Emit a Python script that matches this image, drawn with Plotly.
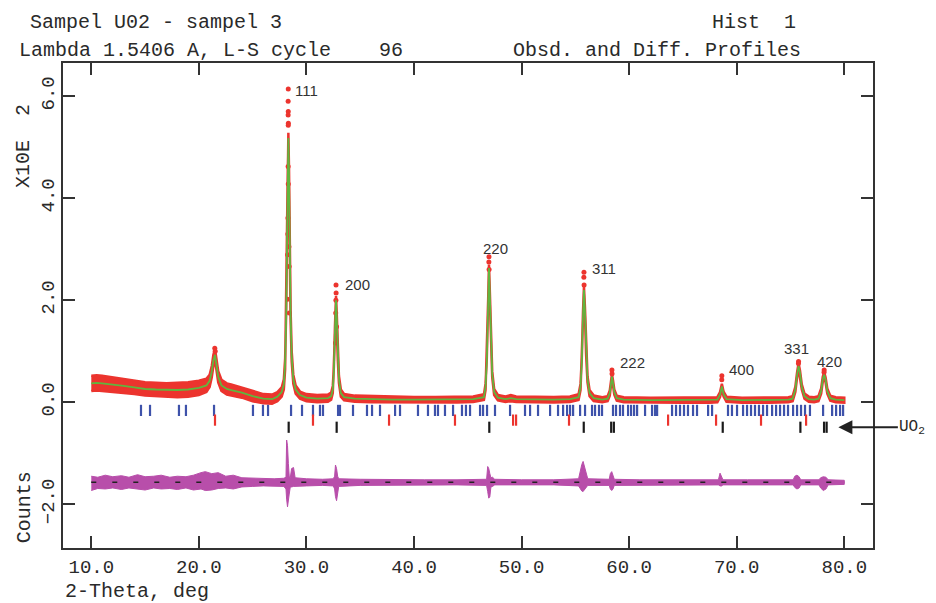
import plotly.graph_objects as go

# ---------------- data (2-theta in deg, intensity in units of 10^2 counts) ----------------
tt_profile = [10.0, 10.5, 11.0, 12.0, 13.0, 14.0, 15.0, 16.0, 17.0, 18.0, 19.0, 20.0, 20.7, 21.0, 21.2,
              21.35, 21.5, 21.65, 21.8, 22.1, 22.6, 23.0, 24.0, 25.0, 26.0, 26.8, 27.3, 27.7, 27.9,
              28.02, 28.12, 28.2, 28.27, 28.32, 28.38, 28.45, 28.53, 28.63, 28.78, 29.0, 29.4, 30.0,
              31.0, 32.0, 32.3, 32.45, 32.55, 32.65, 32.75, 32.83, 32.92, 33.02, 33.2, 33.5, 34.5,
              36.0, 38.0, 40.0, 42.0, 44.0, 45.5, 46.5, 46.65, 46.77, 46.88, 46.97, 47.05, 47.15,
              47.27, 47.45, 47.8, 48.5, 49.0, 49.5, 51.0, 53.0, 54.5, 55.3, 55.48, 55.6, 55.71, 55.8,
              55.89, 56.0, 56.13, 56.32, 56.7, 57.5, 58.0, 58.2, 58.32, 58.4, 58.5, 58.62, 58.85,
              59.5, 62.0, 65.0, 67.5, 68.2, 68.45, 68.62, 68.78, 69.05, 70.5, 73.0, 74.8, 75.2,
              75.45, 75.62, 75.75, 75.88, 76.05, 76.3, 76.7, 77.2, 77.6, 77.85, 78.0, 78.13, 78.26,
              78.42, 78.7, 79.2, 80.0]
calc_profile = [0.37, 0.38, 0.37, 0.35, 0.32, 0.29, 0.26, 0.25, 0.24, 0.24, 0.25, 0.28, 0.33, 0.42, 0.60,
                0.82, 0.93, 0.72, 0.50, 0.33, 0.26, 0.24, 0.19, 0.12, 0.07, 0.06, 0.11, 0.20, 0.35,
                0.75, 1.70, 3.20, 4.70, 5.18, 4.50, 3.00, 1.70, 0.90, 0.45, 0.25, 0.14, 0.09,
                0.07, 0.08, 0.12, 0.25, 0.60, 1.40, 2.00, 1.60, 0.90, 0.45, 0.18, 0.10, 0.07,
                0.06, 0.05, 0.05, 0.05, 0.05, 0.06, 0.10, 0.30, 0.80, 1.80, 2.63, 2.10, 1.20,
                0.55, 0.20, 0.09, 0.06, 0.08, 0.06, 0.05, 0.05, 0.06, 0.10, 0.30, 0.80, 1.70, 2.20,
                1.80, 1.00, 0.45, 0.18, 0.08, 0.05, 0.07, 0.18, 0.40, 0.50, 0.38, 0.20, 0.08,
                0.05, 0.04, 0.04, 0.04, 0.05, 0.15, 0.31, 0.16, 0.06, 0.04, 0.04, 0.05, 0.07,
                0.25, 0.55, 0.71, 0.58, 0.30, 0.12, 0.06, 0.05, 0.07, 0.22, 0.45, 0.54, 0.44,
                0.22, 0.08, 0.05, 0.04]
obs_spread = [0.15, 0.15, 0.15, 0.14, 0.14, 0.13, 0.13, 0.13, 0.13, 0.14, 0.14, 0.14, 0.13, 0.12, 0.11,
              0.11, 0.11, 0.11, 0.11, 0.11, 0.11, 0.11, 0.10, 0.10, 0.09, 0.09, 0.09, 0.09, 0.10,
              0.10, 0.10, 0.10, 0.10, 0.10, 0.10, 0.10, 0.10, 0.10, 0.09, 0.08, 0.07, 0.07,
              0.07, 0.07, 0.07, 0.07, 0.08, 0.08, 0.08, 0.08, 0.08, 0.07, 0.07, 0.06, 0.06,
              0.06, 0.06, 0.055, 0.055, 0.055, 0.055, 0.055, 0.06, 0.07, 0.07, 0.07, 0.07, 0.07,
              0.06, 0.06, 0.055, 0.055, 0.06, 0.055, 0.055, 0.055, 0.055, 0.055, 0.06, 0.07, 0.07, 0.07,
              0.07, 0.07, 0.06, 0.06, 0.055, 0.05, 0.05, 0.05, 0.05, 0.05, 0.05, 0.05, 0.05,
              0.05, 0.05, 0.05, 0.05, 0.05, 0.05, 0.05, 0.05, 0.05, 0.05, 0.05, 0.05, 0.05,
              0.05, 0.05, 0.05, 0.05, 0.05, 0.05, 0.05, 0.05, 0.05, 0.05, 0.05, 0.05, 0.05,
              0.05, 0.05, 0.05, 0.05]

# individual observed points standing out near the peak tops
obs_dot_tt = [21.48, 21.52, 28.31, 28.30, 28.31, 28.30, 28.32, 28.31, 28.30, 28.31, 28.28, 28.27,
              28.37, 28.25, 28.39, 28.24, 28.41, 32.75, 32.76, 32.74, 32.72, 32.80, 32.70,
              46.97, 46.96, 46.98, 55.80, 55.79, 55.81, 58.40, 58.41, 68.62, 68.61, 75.75, 75.74,
              78.13, 78.12]
obs_dot_y = [1.06, 1.00, 6.14, 5.90, 5.70, 5.63, 5.47, 5.43, 4.62, 4.28, 3.61, 3.30,
             3.05, 2.89, 2.66, 2.02, 1.75, 2.30, 2.14, 2.00, 1.75, 1.48, 1.16,
             2.85, 2.75, 2.60, 2.55, 2.45, 2.30, 0.63, 0.56, 0.52, 0.44, 0.80, 0.76,
             0.63, 0.59]

# difference curve envelope (already offset to its plotting position)
diff_tt = [10.0, 10.6, 11.3, 12.0, 12.8, 13.5, 14.3, 15.0, 15.8, 16.5, 17.3, 18.0, 18.8, 19.5,
           20.2, 20.6, 21.2, 21.8, 22.5, 23.2, 24.0, 25.0, 26.0, 27.0, 27.9, 28.1, 28.16, 28.24,
           28.32, 28.40, 28.5, 28.62, 28.8, 28.95, 30.0, 31.5, 32.5, 32.62, 32.7, 32.8, 32.9,
           33.0, 35.0, 38.0, 41.0, 44.0, 46.75, 46.85, 46.95, 47.05, 47.15, 47.3, 47.5, 50.0,
           53.0, 55.3, 55.45, 55.6, 55.72, 55.85, 56.0, 56.15, 58.15, 58.25, 58.38, 58.5,
           58.62, 61.0, 64.0, 68.3, 68.45, 68.6, 68.72, 71.0, 75.25, 75.4, 75.6, 75.8, 75.95,
           77.65, 77.8, 78.05, 78.3, 78.5, 80.0]
diff_hi = [-1.45, -1.47, -1.43, -1.46, -1.44, -1.47, -1.42, -1.46, -1.45, -1.43, -1.47, -1.45, -1.46,
           -1.43, -1.38, -1.36, -1.40, -1.38, -1.45, -1.43, -1.48, -1.49, -1.50, -1.50, -1.49,
           -1.47, -0.74, -0.85, -1.20, -1.45, -1.48, -1.30, -1.28, -1.48, -1.50, -1.51, -1.50,
           -1.45, -1.23, -1.30, -1.45, -1.50, -1.51, -1.52, -1.52, -1.52, -1.51, -1.26, -1.30,
           -1.40, -1.48, -1.47, -1.51, -1.52, -1.52, -1.50, -1.35, -1.22, -1.16, -1.28, -1.40,
           -1.50, -1.51, -1.40, -1.36, -1.45, -1.51, -1.52, -1.52, -1.52, -1.39, -1.45, -1.52,
           -1.52, -1.52, -1.45, -1.43, -1.46, -1.52, -1.52, -1.48, -1.46, -1.47, -1.52, -1.53]
diff_lo = [-1.73, -1.69, -1.70, -1.68, -1.71, -1.68, -1.70, -1.72, -1.68, -1.70, -1.69, -1.71, -1.68,
           -1.72, -1.70, -1.73, -1.72, -1.69, -1.68, -1.70, -1.66, -1.65, -1.64, -1.64, -1.65,
           -1.70, -1.90, -2.05, -2.02, -1.80, -1.66, -1.66, -1.65, -1.64, -1.64, -1.63, -1.64,
           -1.70, -1.85, -1.93, -1.80, -1.65, -1.63, -1.62, -1.62, -1.62, -1.63, -1.75, -1.88,
           -1.85, -1.66, -1.65, -1.62, -1.62, -1.62, -1.64, -1.70, -1.74, -1.75, -1.72, -1.68,
           -1.63, -1.63, -1.70, -1.73, -1.70, -1.63, -1.62, -1.62, -1.62, -1.64, -1.64, -1.62,
           -1.62, -1.62, -1.67, -1.70, -1.68, -1.62, -1.62, -1.68, -1.73, -1.70, -1.62, -1.61]
diff_zero = -1.57

# reflection markers
tick_blue = [14.62, 15.46, 18.15, 18.80, 21.41, 25.03, 25.96, 26.43, 28.57, 29.59, 30.61, 31.26,
             31.54, 32.94, 33.12, 34.33, 35.63, 36.10, 36.84, 38.24, 38.70, 40.37, 41.30, 41.95,
             42.23, 42.88, 43.63, 44.46, 44.83, 45.21, 46.14, 46.42, 46.79, 47.53, 48.93, 50.32,
             50.79, 51.53, 52.65, 53.39, 53.86, 54.23, 54.51, 54.79, 55.44, 55.90, 56.55, 56.83,
             57.20, 57.48, 58.50, 58.78, 59.15, 59.43, 59.90, 60.18, 60.46, 60.74, 61.48, 62.13,
             62.41, 62.60, 63.99, 64.36, 64.73, 65.10, 65.47, 65.94, 66.31, 67.34, 67.71, 69.19,
             69.56, 70.03, 70.59, 70.96, 71.33, 71.70, 72.07, 72.45, 72.82, 73.29, 73.66, 74.03,
             74.40, 74.77, 75.24, 75.61, 75.98, 76.35, 76.81, 78.03, 78.87, 79.24, 79.61, 79.89]
tick_red = [21.50, 30.61, 37.68, 43.81, 49.21, 49.49, 54.41, 63.62, 68.08, 72.26, 76.45]
tick_uo2 = [28.35, 32.81, 47.00, 55.78, 58.33, 58.58, 68.70, 75.92, 78.12, 78.36]
tick_rows = [-0.16, -0.35, -0.49]

hkl_labels = ["111", "200", "220", "311", "222", "400", "331", "420"]
label_tt = [28.74, 33.39, 46.23, 56.36, 58.97, 69.10, 74.20, 77.27]
label_y = [6.12, 2.30, 3.02, 2.63, 0.77, 0.65, 1.06, 0.79]

x_ticks = [10, 20, 30, 40, 50, 60, 70, 80]
y_ticks = [-2, 0, 2, 4, 6]

assert len(tt_profile) == len(calc_profile) == len(obs_spread)
assert len(diff_tt) == len(diff_hi) == len(diff_lo)
assert len(obs_dot_tt) == len(obs_dot_y)

# ---------------- styles ----------------
RED = "rgb(236,52,46)"
GREEN = "rgb(96,182,62)"
BLUE = "rgb(62,82,170)"
MAGENTA = "rgb(184,78,170)"
INK = "#2a2a2a"
FONT = "Liberation Mono"

fig = go.Figure()

obs_hi = [c + s for c, s in zip(calc_profile, obs_spread)]
obs_lo = [c - s for c, s in zip(calc_profile, obs_spread)]
fig.add_trace(go.Scatter(x=tt_profile + tt_profile[::-1], y=obs_hi + obs_lo[::-1],
                         mode="lines", fill="toself", fillcolor=RED,
                         line=dict(color=RED, width=2.5), hoverinfo="skip"))
fig.add_trace(go.Scatter(x=obs_dot_tt, y=obs_dot_y, mode="markers",
                         marker=dict(color=RED, size=5), hoverinfo="skip"))
fig.add_trace(go.Scatter(x=tt_profile, y=calc_profile, mode="lines",
                         line=dict(color=GREEN, width=1.8), hoverinfo="skip"))

fig.add_trace(go.Scatter(x=[tt_profile[0], tt_profile[-1]], y=[diff_zero, diff_zero], mode="lines",
                         line=dict(color="#222", width=1.5), hoverinfo="skip"))
fig.add_trace(go.Scatter(x=diff_tt + diff_tt[::-1], y=diff_hi + diff_lo[::-1],
                         mode="lines", fill="toself", fillcolor=MAGENTA,
                         line=dict(color=MAGENTA, width=1.0), hoverinfo="skip"))
fig.add_trace(go.Scatter(x=[tt_profile[0], tt_profile[-1]], y=[diff_zero, diff_zero], mode="lines",
                         line=dict(color="#222", width=1.5, dash="5px,16px"), hoverinfo="skip"))

for vals, row, col in zip([tick_blue, tick_red, tick_uo2], tick_rows, [BLUE, RED, "#1a1a1a"]):
    fig.add_trace(go.Scatter(x=vals, y=[row] * len(vals), mode="markers",
                             marker=dict(symbol="line-ns", size=8, line=dict(width=2.2, color=col)),
                             hoverinfo="skip"))

annotations = []
for lab, x, y in zip(hkl_labels, label_tt, label_y):
    annotations.append(dict(x=x, y=y, xref="x", yref="y", text=lab, showarrow=False,
                            xanchor="left", yanchor="middle",
                            font=dict(family="Liberation Sans", size=15, color="#333")))

# UO2 arrow
annotations.append(dict(x=79.45, y=tick_rows[2], xref="x", yref="y", text="UO<sub>2</sub>",
                        showarrow=True, arrowhead=2, arrowsize=1.4, arrowwidth=2, arrowcolor="#222",
                        ax=74, ay=0, xanchor="center", yanchor="middle",
                        font=dict(family=FONT, size=16, color=INK)))

nb = "\u00a0"
hdr = [
    ("Sampel U02 - sampel 3", -0.0432, 1.0845, "left"),
    ("Lambda 1.5406 A, L-S cycle" + nb * 4 + "96", -0.0568, 1.0268, "left"),
    ("Hist" + nb * 2 + "1", 0.9074, 1.0845, "right"),
    ("Obsd. and Diff. Profiles", 0.9136, 1.0268, "right"),
]
for t, x, y, xa in hdr:
    annotations.append(dict(x=x, y=y, xref="paper", yref="paper", text=t.replace(" ", nb),
                            showarrow=False, xanchor=xa, yanchor="middle",
                            font=dict(family=FONT, size=20, color=INK)))

annotations.append(dict(x=-0.048, y=0.829, xref="paper", yref="paper", text="X10E" + nb * 2 + "2",
                        textangle=-90, showarrow=False, xanchor="center", yanchor="middle",
                        font=dict(family=FONT, size=20, color=INK)))
annotations.append(dict(x=-0.048, y=0.0845, xref="paper", yref="paper", text="Counts",
                        textangle=-90, showarrow=False, xanchor="center", yanchor="middle",
                        font=dict(family=FONT, size=20, color=INK)))
annotations.append(dict(x=0.0, y=-0.0907, xref="paper", yref="paper", text="2-Theta," + nb + "deg",
                        showarrow=False, xanchor="left", yanchor="middle",
                        font=dict(family=FONT, size=20, color=INK)))

axis_common = dict(showgrid=False, zeroline=False, showline=True, linecolor="#333", linewidth=1.5,
                   mirror="ticks", ticks="inside", ticklen=12, tickwidth=1.5, tickcolor="#333",
                   tickfont=dict(family=FONT, size=19, color=INK), tickformat=".1f",
                   automargin=False)

fig.update_layout(
    width=936, height=603,
    margin=dict(l=63, r=63, t=63, b=55),
    paper_bgcolor="white", plot_bgcolor="white",
    showlegend=False,
    xaxis=dict(range=[7.37, 82.67], tickvals=x_ticks, **axis_common),
    yaxis=dict(range=[-2.857, 6.65], tickvals=y_ticks, tickangle=-90, **axis_common),
    annotations=annotations,
)

fig.write_html("out.html", config={"displayModeBar": False},
               post_script="document.body.style.margin='0';document.body.style.overflow='hidden';")
